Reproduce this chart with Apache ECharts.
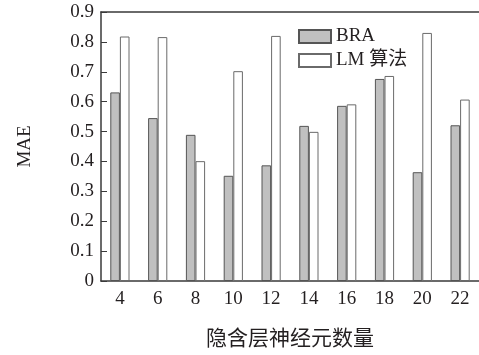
<!DOCTYPE html>
<html>
<head>
<meta charset="utf-8">
<script src="https://cdn.jsdelivr.net/npm/echarts@6/dist/echarts.min.js"></script>
<style>
  html, body { margin: 0; padding: 0; background: #fff; }
  #chart { width: 479px; height: 355px; }
</style>
</head>
<body>
<div id="chart"></div>
<script>
// Number of hidden-layer neurons
const categories = ['4', '6', '8', '10', '12', '14', '16', '18', '20', '22'];
// MAE per method
const braValues = [0.631, 0.545, 0.489, 0.352, 0.387, 0.519, 0.586, 0.676, 0.364, 0.521];
const lmValues  = [0.818, 0.816, 0.401, 0.702, 0.820, 0.499, 0.591, 0.686, 0.830, 0.607];
const seriesNames = ['BRA', 'LM 算法'];

const FONT = '"Liberation Serif", "Times New Roman", "Noto Sans CJK SC", serif';
const TEXT = '#231f20';
const AXIS = '#3a3a3a';

const chart = echarts.init(document.getElementById('chart'), null, { renderer: 'canvas' });
chart.setOption({
  animation: false,
  backgroundColor: '#ffffff',
  textStyle: { fontFamily: FONT, color: TEXT },
  grid: { left: 101, right: 0, top: 12, bottom: 69, containLabel: false },
  legend: {
    orient: 'vertical',
    left: 293,
    top: 22,
    itemWidth: 32,
    itemHeight: 13,
    itemGap: 5,
    icon: 'rect',
    textStyle: { fontFamily: FONT, fontSize: 19, color: TEXT },
    data: seriesNames
  },
  xAxis: [{
    type: 'category',
    data: categories,
    name: '隐含层神经元数量',
    nameLocation: 'middle',
    nameGap: 48,
    nameTextStyle: { fontFamily: FONT, fontSize: 21, color: TEXT },
    axisLine: { lineStyle: { color: AXIS, width: 1.5 } },
    axisTick: { show: false },
    axisLabel: { fontFamily: FONT, fontSize: 19, color: TEXT, margin: 9 }
  }, {
    type: 'category',
    data: categories,
    position: 'top',
    axisLine: { show: true, lineStyle: { color: AXIS, width: 1.5 } },
    axisTick: { show: false },
    axisLabel: { show: false }
  }],
  yAxis: {
    type: 'value',
    min: 0,
    max: 0.9,
    interval: 0.1,
    name: 'MAE',
    nameLocation: 'middle',
    nameGap: 66,
    nameTextStyle: { fontFamily: FONT, fontSize: 19, color: TEXT },
    axisLine: { show: true, lineStyle: { color: AXIS, width: 1.5 } },
    axisTick: { show: true, inside: true, length: 6, lineStyle: { color: AXIS, width: 1 } },
    axisLabel: { fontFamily: FONT, fontSize: 19, color: TEXT, margin: 7 },
    splitLine: { show: false }
  },
  series: [{
    name: seriesNames[0],
    type: 'bar',
    data: braValues,
    barWidth: 9.6,
    barGap: '0%',
    itemStyle: { color: '#c0c0c0', borderColor: '#555555', borderWidth: 1 }
  }, {
    name: seriesNames[1],
    type: 'bar',
    data: lmValues,
    barWidth: 9.6,
    barGap: '0%',
    itemStyle: { color: '#ffffff', borderColor: '#6a6a6a', borderWidth: 1 }
  }]
});
</script>
</body>
</html>
